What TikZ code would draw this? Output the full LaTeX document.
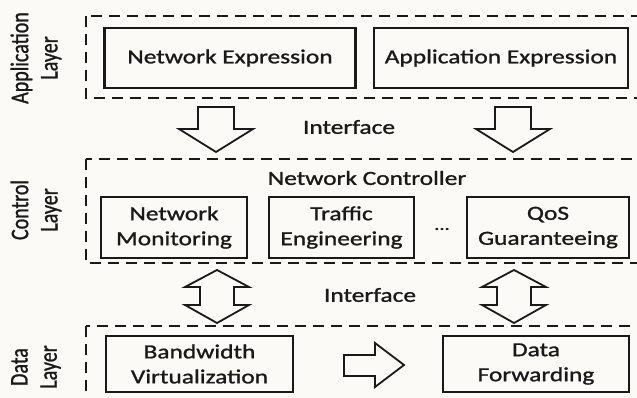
\documentclass[tikz,border=0pt]{standalone}
\usepackage{fontspec}
\setmainfont{Carlito}[FakeStretch=1.27, FakeBold=1.2]
\newfontfamily\layerfont{Carlito}[FakeBold=1.2]
\usetikzlibrary{positioning}

\definecolor{paper}{RGB}{252,250,246}
\definecolor{ink}{RGB}{25,25,25}

\tikzset{
	module/.style={draw=ink, line width=2.2pt, minimum height=61, inner sep=0, align=center, text=ink, font=\fontsize{20}{25}\selectfont},
	layer/.style={draw=ink, line width=1.7pt, dash pattern=on 11pt off 7pt},
	layername/.style={rotate=90, yscale=1.27, align=center, text=ink, font=\layerfont\fontsize{20}{23}\selectfont},
	plain/.style={text=ink, font=\fontsize{20}{25}\selectfont},
	hollow/.style={draw=ink, line width=1.8pt, fill=paper, line join=miter},
}

\begin{document}
\begin{tikzpicture}[x=1pt, y=-1pt]
	\useasboundingbox (0,0) rectangle (637,398);
	\fill[paper] (0,0) rectangle (637,398);
	\clip (0,0) rectangle (637,398);

	% layers
	\draw[layer] (86,16) rectangle (660,98);
	\draw[layer] (86,159) rectangle (660,263);
	\draw[layer] (86,326) rectangle (660,420);

	\node[layername] (appl)  at (36,58)  {Application\\Layer};
	\node[layername] (ctrl)  at (36,210) {Control\\Layer};
	\node[layername] (datal) at (36,367) {Data\\Layer};

	% application layer
	\node[module, minimum width=251, minimum height=60]                 (netexp) at (230,58) {Network Expression};
	\node[module, minimum width=254, minimum height=60, line width=1.6pt] (appexp) at (501,58) {Application Expression};

	% control layer
	\node[plain] (ctrlname) at (367,178) {Network Controller};
	\node[module, minimum width=146]                 (netmon)  at (174,227.5)   {Network\\Monitoring};
	\node[module, minimum width=145]                 (traffic) at (341.5,227.5) {Traffic\\Engineering};
	\node[module, minimum width=162, line width=1.6pt] (qos)   at (548,227.5)   {QoS\\Guaranteeing};
	\node[plain, font=\fontsize{16}{20}\selectfont] (dots) at (442,229) {...};

	% data layer
	\node[module, minimum width=187, minimum height=56] (bandw) at (199.5,364) {Bandwidth\\Virtualization};
	\node[module, minimum width=186, minimum height=56] (fwd)   at (536,364)   {Data\\Forwarding};

	% interfaces
	\node[plain] (if1) at (349,127) {Interface};
	\node[plain] (if2) at (370,295) {Interface};

	\foreach \cx in {216,513}
		\draw[hollow] (\cx-18,107) -- (\cx+18,107) -- (\cx+18,129) -- (\cx+37,129) -- (\cx,152) -- (\cx-37,129) -- (\cx-18,129) -- cycle;

	\foreach \cx in {217,514}
		\draw[hollow] (\cx,270) -- (\cx+32,287) -- (\cx+17,287) -- (\cx+17,305) -- (\cx+32,305) -- (\cx,323)
			-- (\cx-32,305) -- (\cx-17,305) -- (\cx-17,287) -- (\cx-32,287) -- cycle;

	\draw[hollow] (344,355) -- (375,355) -- (375,343) -- (404,365) -- (375,387) -- (375,376) -- (344,376) -- cycle;
\end{tikzpicture}
\end{document}
